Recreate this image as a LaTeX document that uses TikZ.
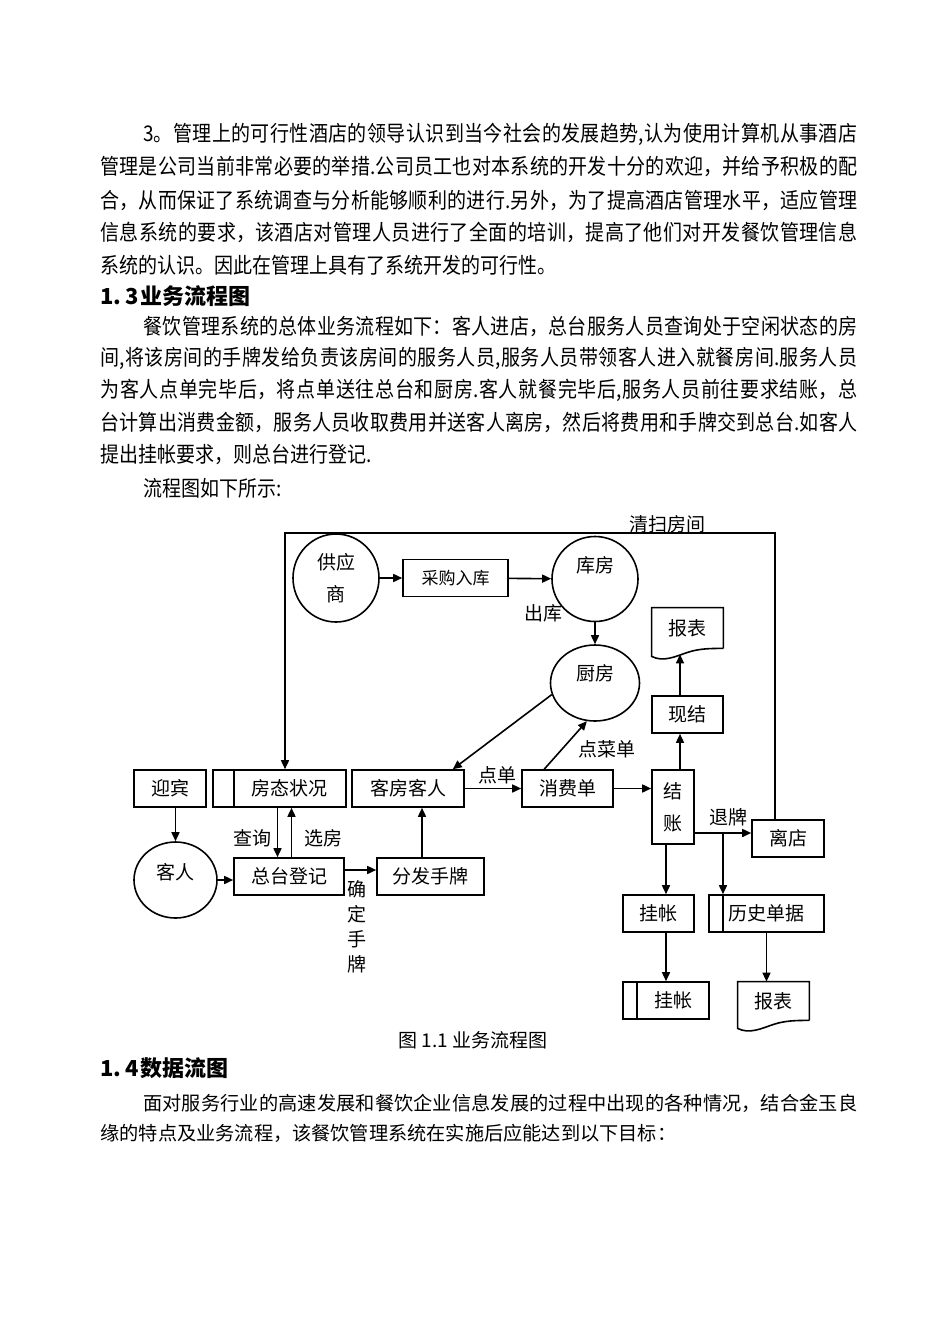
\documentclass[tikz,border=0pt]{standalone}
\usepackage{fontspec}
\setmainfont{Noto Sans CJK SC}
\newfontfamily\condfont{Noto Sans CJK SC}[FakeStretch=0.88]
\usetikzlibrary{shapes.geometric,arrows.meta,positioning,calc}
\XeTeXlinebreaklocale "zh"
\XeTeXlinebreakskip=0pt plus 2pt

\newcommand{\bodyfont}{\condfont\fontsize{10.8pt}{13pt}\selectfont}
\newcommand{\plainbody}{\fontsize{9.6pt}{12pt}\selectfont}
\newcommand{\headfont}{\bfseries\fontsize{11pt}{13pt}\selectfont}
\newcommand{\diagfont}{\fontsize{9.5pt}{11pt}\selectfont}
\newcommand{\fullline}[1]{\parbox{378.5pt}{\parfillskip=0pt #1}}
\newcommand{\indline}[1]{\parbox{357pt}{\parfillskip=0pt #1}}
% outline of a report (wavy bottom)
\newcommand{\docoutline}[1]{%
  \draw[conn] (#1.south east) -- (#1.north east) -- (#1.north west) -- ([yshift=-4pt]#1.south west)
    .. controls +(12,6) and +(-12,4) .. ([yshift=-2pt]#1.south)
    .. controls +(12,-4) and +(-12,0) .. (#1.south east);}

\begin{document}
\begin{tikzpicture}[x=0.5pt, y=-0.5pt,
    conn/.style={line width=0.8pt},
    flow/.style={conn, -{Triangle[length=4.5pt,width=4pt]}},
    box/.style={draw, rectangle, conn, inner sep=0pt, minimum height=18.5pt, font=\diagfont},
    store/.style={box, path picture={\draw[conn] ([xshift=#1]path picture bounding box.north west) -- ([xshift=#1]path picture bounding box.south west);}},
    store/.default=7pt,
    circ/.style={draw, ellipse, conn, inner sep=0pt, font=\diagfont},
    doc/.style={rectangle, inner sep=0pt, minimum width=35.5pt, font=\diagfont},
    lbl/.style={inner sep=0pt, font=\diagfont},
    para/.style={anchor=west, inner sep=0pt, font=\bodyfont}
]
\useasboundingbox (0,0) rectangle (950,1344);
\fill[white] (0,0) rectangle (950,1344);

% Section text above the chart
\node[para] (p1a) at (143,134) {\indline{3。管理上的可行性酒店的领导认识到当今社会的发展趋势,认为使用计算机从事酒店}};
\node[para] (p1b) at (100,167) {\fullline{管理是公司当前非常必要的举措.公司员工也对本系统的开发十分的欢迎，并给予积极的配}};
\node[para] (p1c) at (100,200) {\fullline{合，从而保证了系统调查与分析能够顺利的进行.另外，为了提高酒店管理水平，适应管理}};
\node[para] (p1d) at (100,232) {\fullline{信息系统的要求，该酒店对管理人员进行了全面的培训，提高了他们对开发餐饮管理信息}};
\node[para] (p1e) at (100,265) {系统的认识。因此在管理上具有了系统开发的可行性。};

\node[anchor=west, inner sep=0pt, font=\headfont] (h13) at (100,296) {1.\hspace{2pt}3\hspace{1pt}业务流程图};

\node[para] (p2a) at (143,326) {\indline{餐饮管理系统的总体业务流程如下：客人进店，总台服务人员查询处于空闲状态的房}};
\node[para] (p2b) at (100,358) {\fullline{间,将该房间的手牌发给负责该房间的服务人员,服务人员带领客人进入就餐房间.服务人员}};
\node[para] (p2c) at (100,390) {\fullline{为客人点单完毕后，将点单送往总台和厨房.客人就餐完毕后,服务人员前往要求结账，总}};
\node[para] (p2d) at (100,422) {\fullline{台计算出消费金额，服务人员收取费用并送客人离房，然后将费用和手牌交到总台.如客人}};
\node[para] (p2e) at (100,455) {提出挂帐要求，则总台进行登记.};
\node[para] (p2f) at (143,488) {流程图如下所示:};

% Chart: purchasing
\node[circ, minimum width=43pt, minimum height=44pt, align=center] (gys) at (336,578) {供应\\[5pt]商};
\node[box, minimum width=52.5pt] (cgrk) at (455.5,578) {\fontsize{8.5pt}{10pt}\selectfont 采购入库};
\node[circ, minimum width=43pt, minimum height=42.5pt] (kf) at (595,579) {};
\node[lbl] (kft) at (595,565) {库房};
\node[lbl] (ck) at (543,613) {出库};
\node[circ, minimum width=44.5pt, minimum height=38pt] (cf) at (595,683) {};
\node[lbl] (cft) at (595,673) {厨房};
\node[lbl] (dcd) at (607,749) {点菜单};

% Chart: front desk
\node[box, minimum width=36pt] (yb) at (170,788.5) {迎宾};
\node[store=10.5pt, minimum width=66.5pt] (ftzk) at (279.5,788.5) {\hspace{10pt}房态状况};
\node[box, minimum width=56pt] (kfkr) at (408,788.5) {客房客人};
\node[lbl] (ddl) at (497,775) {点单};
\node[box, minimum width=45.5pt] (xfd) at (567.5,788.5) {消费单};
\node[circ, minimum width=41.5pt, minimum height=38pt] (kr) at (175.5,880) {};
\node[lbl] (krt) at (175.5,872) {客人};
\node[box, minimum width=55pt] (ztdj) at (289,876.5) {总台登记};
\node[lbl] (cxl) at (252,838) {查询};
\node[lbl] (xfl) at (323,838) {选房};
\node[box, minimum width=53.5pt] (fffs) at (430.5,876.5) {分发手牌};
\node[lbl, align=center] (qdsp) at (357,926.5) {确\\[1.5pt]定\\[1.5pt]手\\[1.5pt]牌};

% Chart: checkout
\node[box, minimum width=21pt, minimum height=37pt, align=center] (jz) at (673,807) {结\\[5pt]账};
\node[box, minimum width=35.5pt] (xj) at (687.5,714.5) {现结};
\node[doc, minimum height=20pt] (bb1) at (687.5,628) {报表};
\docoutline{bb1}
\node[box, minimum width=36pt] (ld) at (788,838.5) {离店};
\node[lbl] (tpl) at (728,817) {退牌};
\node[box, minimum width=35.5pt] (gz) at (658.5,913.5) {挂帐};
\node[store, minimum width=57.5pt] (lsdj) at (766.5,913.5) {历史单据};
\node[store, minimum width=43pt] (gzk) at (666,1000.5) {\hspace{7pt}挂帐};
\node[doc, minimum height=19pt] (bb2) at (773.5,1001) {报表};
\docoutline{bb2}
\node[lbl] (qsfj) at (667,524) {清扫房间};

\coordinate (top) at (0,533);
\coordinate (fork) at (723,833);

% Connectors
\draw[flow] (gys) -- (cgrk);
\draw[flow] (cgrk) -- (kf);
\draw[flow] (kf) -- (cf);
\draw[flow] (cf.195) -- ([xshift=-6pt]kfkr.north east);
\draw[flow] ([xshift=11.5pt]xfd.north west) -- (cf.258);
\draw[flow] (kfkr) -- (xfd);
\draw[flow] (xfd.east) -- (xfd.east -| jz.west);
\draw[flow] ([xshift=3.5pt]jz.north) -- ([xshift=3.5pt]jz.north |- xj.south);
\draw[flow] ([xshift=-3.75pt]xj.north) -- ([xshift=-3.75pt,yshift=-3pt]bb1.south);
\draw[flow] (kr.north |- yb.south) -- (kr.north);
\draw[flow] (kr.east) -- (kr.east -| ztdj.west);
\draw[flow] ([xshift=-1pt]ftzk.south) -- ([xshift=-1pt]ftzk.south |- ztdj.north);
\draw[flow] ([xshift=6pt]ftzk.south |- ztdj.north) -- ([xshift=6pt]ftzk.south);
\draw[flow] ([yshift=3.25pt]ztdj.east) -- ([yshift=3.25pt]ztdj.east -| fffs.west);
\draw[flow] ([xshift=-4.25pt]fffs.north) -- ([xshift=-4.25pt]fffs.north |- kfkr.south);
\draw[flow] ([xshift=-6.5pt]ld.north) -- ([xshift=-6.5pt]ld.north |- top) -| ([xshift=2.75pt]ftzk.north);
\draw[flow] (jz.east |- fork) -- (ld.west |- fork);
\draw[flow] (fork) -- (fork |- lsdj.north);
\draw[flow] ([xshift=-3.5pt]jz.south) -- ([xshift=-3.5pt]jz.south |- gz.north);
\draw[flow] (gzk.north |- gz.south) -- (gzk.north);
\draw[flow] (lsdj.south) -- (lsdj.south |- bb2.north);

\node[lbl] (fig) at (473,1040) {图 1.1 业务流程图};

% Section text below the chart
\node[anchor=west, inner sep=0pt, font=\headfont] (h14) at (100,1068) {1.\hspace{2pt}4\hspace{1pt}数据流图};
\node[anchor=west, inner sep=0pt, font=\plainbody] (p3a) at (143,1103) {\parbox{357pt}{\parfillskip=0pt 面对服务行业的高速发展和餐饮企业信息发展的过程中出现的各种情况，结合金玉良}};
\node[anchor=west, inner sep=0pt, font=\plainbody] (p3b) at (100,1133) {缘的特点及业务流程，该餐饮管理系统在实施后应能达到以下目标：};

\end{tikzpicture}
\end{document}
